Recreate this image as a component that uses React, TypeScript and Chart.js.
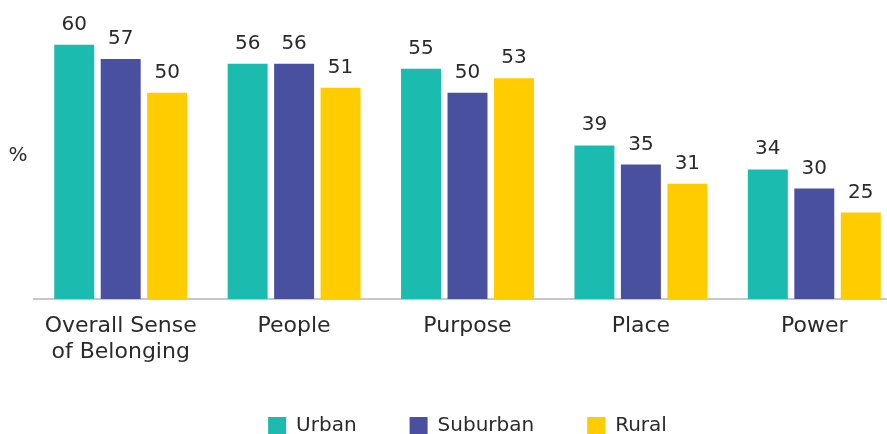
import React, { useEffect, useRef } from "react";
import { Chart, registerables } from "chart.js";

Chart.register(...registerables);

const categories: (string | string[])[] = [["Overall Sense", "of Belonging"], "People", "Purpose", "Place", "Power"];
const seriesNames = ["Urban", "Suburban", "Rural"];
const urban = [60, 56, 55, 39, 34];
const suburban = [57, 56, 50, 35, 30];
const rural = [50, 51, 53, 31, 25];
const axisUnit = "%";
const yMin = 7;
const yMax = 69.3;

const COLORS = ["#1BBBB0", "#4A50A0", "#FFCC00"];
const TEXT = "#2a2a2a";
const FONT = "'DejaVu Sans', sans-serif";

const valueLabels = {
  id: "valueLabels",
  afterDatasetsDraw(chart: any) {
    const ctx = chart.ctx;
    ctx.save();
    ctx.font = `20px ${FONT}`;
    ctx.fillStyle = TEXT;
    ctx.textAlign = "center";
    ctx.textBaseline = "alphabetic";
    chart.data.datasets.forEach((ds: any, i: number) => {
      chart.getDatasetMeta(i).data.forEach((el: any, j: number) => {
        ctx.fillText(String(ds.data[j]), el.x, el.y - 15);
      });
    });
    const area = chart.chartArea;
    ctx.textBaseline = "middle";
    ctx.fillText(axisUnit, area.left - 16, (area.top + area.bottom) / 2 + 6);
    ctx.restore();
  },
};

export default function App() {
  const ref = useRef<HTMLCanvasElement | null>(null);

  useEffect(() => {
    if (!ref.current) return;
    const data = [urban, suburban, rural];
    const chart = new Chart(ref.current, {
      type: "bar",
      data: {
        labels: categories as any,
        datasets: seriesNames.map((name, i) => ({
          label: name,
          data: data[i],
          backgroundColor: COLORS[i],
          borderWidth: 0,
          categoryPercentage: 0.804,
          barPercentage: 0.86,
        })),
      },
      options: {
        responsive: false,
        animation: false,
        devicePixelRatio: 1,
        layout: { padding: { left: 34, top: 0, right: 0, bottom: 0 } },
        plugins: {
          legend: {
            position: "bottom",
            fullSize: false,
            labels: {
              boxWidth: 18,
              boxHeight: 18,
              padding: 53,
              color: TEXT,
              font: { family: FONT, size: 20 },
            },
          },
          tooltip: { enabled: false },
        },
        scales: {
          x: {
            grid: { display: false, drawTicks: false },
            border: { display: true, color: "#c8c8c8", width: 2 },
            ticks: {
              color: TEXT,
              padding: 14,
              font: { family: FONT, size: 22, lineHeight: 1.18 },
            },
            afterFit: (s: any) => {
              s.height = 64;
            },
          },
          y: {
            display: false,
            min: yMin,
            max: yMax,
          },
        },
      },
      plugins: [valueLabels],
    });
    return () => chart.destroy();
  }, []);

  return (
    <div style={{ position: "fixed", left: 0, top: 0, width: 887, height: 434, overflow: "hidden", background: "#fff" }}>
      <canvas ref={ref} width={901} height={446} style={{ display: "block" }} />
    </div>
  );
}
